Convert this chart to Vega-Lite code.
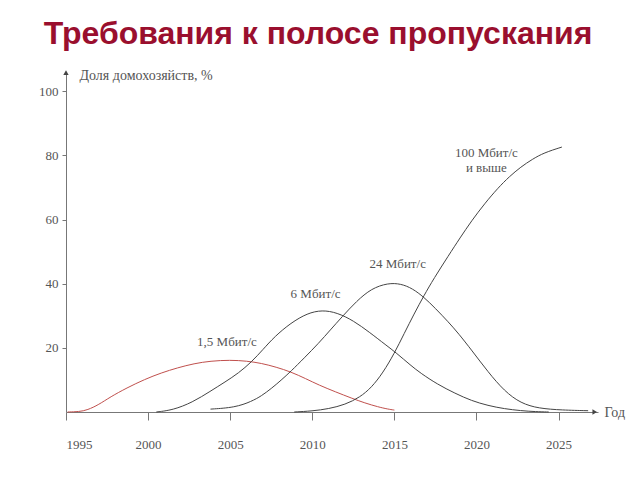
{
  "$schema": "https://vega.github.io/schema/vega-lite/v6.json",
  "autosize": "none",
  "width": 532,
  "height": 340,
  "padding": {"left": 66, "top": 72, "right": 42, "bottom": 68},
  "background": "white",
  "title": {
    "text": "Требования к полосе пропускания",
    "anchor": "middle",
    "frame": "group",
    "font": "Liberation Sans",
    "fontSize": 32,
    "fontWeight": "bold",
    "color": "#9a0f2e",
    "baseline": "alphabetic",
    "offset": 21,
    "dx": -14,
    "dy": 29
  },
  "config": {
    "view": {"stroke": null},
    "axis": {"grid": false, "domainColor": "#777", "tickColor": "#777", "labelColor": "#555", "labelFont": "Liberation Serif", "labelFontSize": 13, "titleFont": "Liberation Serif", "titleFontWeight": "normal", "titleColor": "#555", "titleFontSize": 13}
  },
  "datasets": {
    "curves": [
      {"s": "1.5", "year": 1995.1, "v": 0}, {"s": "1.5", "year": 1995.8, "v": 0.1}, {"s": "1.5", "year": 1996.3, "v": 0.6}, {"s": "1.5", "year": 1997.0, "v": 2.3}, {"s": "1.5", "year": 1997.7, "v": 4.7}, {"s": "1.5", "year": 1998.7, "v": 7.5}, {"s": "1.5", "year": 1999.8, "v": 10.2}, {"s": "1.5", "year": 2000.8, "v": 12.2}, {"s": "1.5", "year": 2001.8, "v": 13.8}, {"s": "1.5", "year": 2002.8, "v": 15.1}, {"s": "1.5", "year": 2003.8, "v": 15.9}, {"s": "1.5", "year": 2005.0, "v": 16.2}, {"s": "1.5", "year": 2006.0, "v": 15.9}, {"s": "1.5", "year": 2006.9, "v": 15.2}, {"s": "1.5", "year": 2007.8, "v": 14.0}, {"s": "1.5", "year": 2008.7, "v": 12.5}, {"s": "1.5", "year": 2009.6, "v": 10.4}, {"s": "1.5", "year": 2010.4, "v": 8.4}, {"s": "1.5", "year": 2011.4, "v": 6.3}, {"s": "1.5", "year": 2012.4, "v": 4.3}, {"s": "1.5", "year": 2013.2, "v": 2.8}, {"s": "1.5", "year": 2014.0, "v": 1.6}, {"s": "1.5", "year": 2014.6, "v": 0.9}, {"s": "1.5", "year": 2015.0, "v": 0.6},
      {"s": "6", "year": 2000.5, "v": 0}, {"s": "6", "year": 2001.5, "v": 0.6}, {"s": "6", "year": 2002.7, "v": 3.0}, {"s": "6", "year": 2003.8, "v": 6.5}, {"s": "6", "year": 2004.7, "v": 9.4}, {"s": "6", "year": 2005.5, "v": 12.1}, {"s": "6", "year": 2006.3, "v": 15.6}, {"s": "6", "year": 2007.0, "v": 19.5}, {"s": "6", "year": 2007.7, "v": 23.5}, {"s": "6", "year": 2008.7, "v": 27.8}, {"s": "6", "year": 2009.7, "v": 30.8}, {"s": "6", "year": 2010.6, "v": 31.8}, {"s": "6", "year": 2011.5, "v": 31.0}, {"s": "6", "year": 2012.5, "v": 28.5}, {"s": "6", "year": 2013.5, "v": 24.8}, {"s": "6", "year": 2014.5, "v": 20.8}, {"s": "6", "year": 2015.1, "v": 18.5}, {"s": "6", "year": 2016.0, "v": 14.5}, {"s": "6", "year": 2016.6, "v": 12.1}, {"s": "6", "year": 2017.6, "v": 8.7}, {"s": "6", "year": 2018.7, "v": 5.8}, {"s": "6", "year": 2019.7, "v": 3.5}, {"s": "6", "year": 2020.7, "v": 2.0}, {"s": "6", "year": 2021.7, "v": 1.0}, {"s": "6", "year": 2022.7, "v": 0.4}, {"s": "6", "year": 2023.6, "v": 0.1}, {"s": "6", "year": 2024.4, "v": 0},
      {"s": "24", "year": 2003.8, "v": 0.9}, {"s": "24", "year": 2005.3, "v": 1.4}, {"s": "24", "year": 2006.3, "v": 3.3}, {"s": "24", "year": 2006.9, "v": 5.0}, {"s": "24", "year": 2007.5, "v": 7.3}, {"s": "24", "year": 2008.1, "v": 9.9}, {"s": "24", "year": 2008.7, "v": 12.7}, {"s": "24", "year": 2009.5, "v": 16.8}, {"s": "24", "year": 2010.4, "v": 21.5}, {"s": "24", "year": 2011.1, "v": 25.6}, {"s": "24", "year": 2011.8, "v": 29.6}, {"s": "24", "year": 2012.7, "v": 34.6}, {"s": "24", "year": 2013.6, "v": 38.5}, {"s": "24", "year": 2014.6, "v": 40.2}, {"s": "24", "year": 2015.4, "v": 40.0}, {"s": "24", "year": 2016.1, "v": 38.5}, {"s": "24", "year": 2016.8, "v": 35.8}, {"s": "24", "year": 2017.5, "v": 32.3}, {"s": "24", "year": 2018.3, "v": 28.0}, {"s": "24", "year": 2018.9, "v": 24.5}, {"s": "24", "year": 2019.7, "v": 19.3}, {"s": "24", "year": 2020.7, "v": 12.5}, {"s": "24", "year": 2021.7, "v": 6.5}, {"s": "24", "year": 2022.7, "v": 2.7}, {"s": "24", "year": 2023.8, "v": 1.1}, {"s": "24", "year": 2025.2, "v": 0.6}, {"s": "24", "year": 2026.8, "v": 0.4},
      {"s": "100", "year": 2008.9, "v": 0}, {"s": "100", "year": 2010.0, "v": 0.3}, {"s": "100", "year": 2011.0, "v": 1.0}, {"s": "100", "year": 2012.0, "v": 2.3}, {"s": "100", "year": 2012.9, "v": 4.6}, {"s": "100", "year": 2013.6, "v": 7.6}, {"s": "100", "year": 2014.3, "v": 12.2}, {"s": "100", "year": 2015.0, "v": 18.3}, {"s": "100", "year": 2015.6, "v": 24.5}, {"s": "100", "year": 2016.2, "v": 30.6}, {"s": "100", "year": 2016.8, "v": 36.3}, {"s": "100", "year": 2017.4, "v": 41.6}, {"s": "100", "year": 2018.3, "v": 48.8}, {"s": "100", "year": 2019.0, "v": 54.3}, {"s": "100", "year": 2019.7, "v": 59.6}, {"s": "100", "year": 2020.5, "v": 65.0}, {"s": "100", "year": 2021.3, "v": 69.8}, {"s": "100", "year": 2022.0, "v": 73.4}, {"s": "100", "year": 2022.7, "v": 76.4}, {"s": "100", "year": 2023.4, "v": 78.8}, {"s": "100", "year": 2024.1, "v": 80.8}, {"s": "100", "year": 2025.2, "v": 82.6}
    ],
    "labels": [
      {"t": "1,5 Мбит/с", "year": 2004.8, "v": 21.8},
      {"t": "6 Мбит/с", "year": 2010.2, "v": 36.8},
      {"t": "24 Мбит/с", "year": 2015.2, "v": 46.0},
      {"t": "100 Мбит/с", "year": 2020.6, "v": 80.7},
      {"t": "и выше", "year": 2020.6, "v": 76.0}
    ],
    "arrows": [
      {"shape": "triangle-right", "year": 2027.2, "v": 0},
      {"shape": "triangle-up", "year": 1995, "v": 105.8}
    ]
  },
  "encoding": {
    "x": {"field": "year", "type": "quantitative", "scale": {"domain": [1995, 2027.4], "nice": false, "zero": false},
      "axis": {"values": [1995, 2000, 2005, 2010, 2015, 2020, 2025], "format": "d", "tickSize": 8, "labelPadding": 18, "title": "Год", "titleFont": "Liberation Serif", "titleX": 538, "titleY": 0, "titleAlign": "left", "titleBaseline": "middle", "titleFontSize": 14}},
    "y": {"field": "v", "type": "quantitative", "scale": {"domain": [0, 106], "nice": false},
      "axis": {"values": [20, 40, 60, 80, 100], "tickSize": 4, "labelPadding": 4, "title": "Доля домохозяйств, %", "titleFont": "Liberation Serif", "titleFontSize": 14, "titleAngle": 0, "titleX": 13, "titleY": 3, "titleAlign": "left", "titleBaseline": "middle"}}
  },
  "layer": [
    {
      "data": {"name": "curves"},
      "mark": {"type": "line", "interpolate": "basis", "strokeWidth": 1},
      "encoding": {
        "detail": {"field": "s"},
        "color": {"field": "s", "type": "nominal", "scale": {"domain": ["1.5", "6", "24", "100"], "range": ["#c0504d", "#444444", "#444444", "#444444"]}, "legend": null}
      }
    },
    {
      "data": {"name": "labels"},
      "mark": {"type": "text", "font": "Liberation Serif", "fontSize": 13, "color": "#555"},
      "encoding": {"text": {"field": "t"}}
    },
    {
      "data": {"name": "arrows"},
      "mark": {"type": "point", "filled": true, "size": 28, "color": "#444", "opacity": 1},
      "encoding": {"shape": {"field": "shape", "type": "nominal", "scale": null}}
    }
  ]
}
